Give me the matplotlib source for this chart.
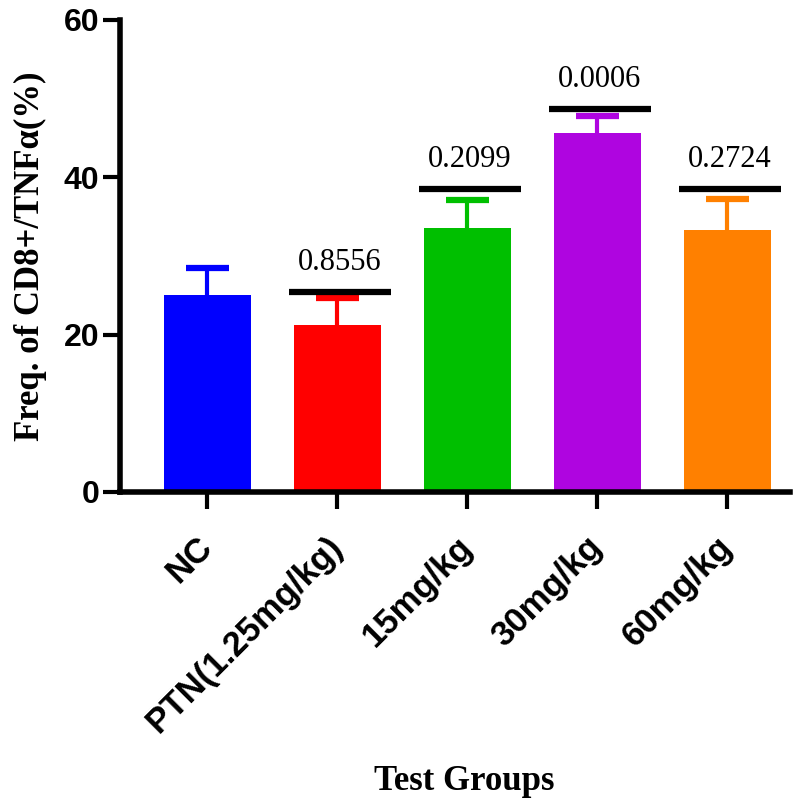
import numpy as np
import matplotlib
matplotlib.use("Agg")
import matplotlib.pyplot as plt

# values
groups = ["NC", "PTN(1.25mg/kg)", "15mg/kg", "30mg/kg", "60mg/kg"]
means = [25.0, 21.2, 33.6, 45.6, 33.3]
err_up = [3.5, 3.5, 3.5, 2.2, 3.9]
colors = ["#0000FF", "#FF0000", "#00BF00", "#AF05E0", "#FF8000"]

# p-values vs NC, with the height of the bar drawn under each
p_groups = [1, 2, 3, 4]
p_heights = [25.4, 38.5, 48.7, 38.5]
p_labels = ["0.8556", "0.2099", "0.0006", "0.2724"]

fig = plt.figure(figsize=(7.97, 7.98), dpi=100)
ax = fig.add_axes([0.1506, 0.3835, 0.8404, 0.5915])

x = np.arange(len(groups))
ax.bar(x, means, width=0.67, color=colors, zorder=2)
# upper error bars only (stem + cap), same colour as the bar
tops = np.array(means) + np.array(err_up)
ax.vlines(x, means, tops, colors=colors, linewidth=3, zorder=1)
ax.hlines(tops, x - 0.165, x + 0.165, colors=colors, linewidth=4.5, zorder=1)

for g, h, lab in zip(p_groups, p_heights, p_labels):
    ax.hlines(h, g - 0.37, g + 0.41, color="black", linewidth=4.5, zorder=3)
    ax.text(g + 0.02, h + 1.9, lab, ha="center", va="bottom",
            fontsize=22, family="Liberation Serif")

ax.set_xlim(-0.67, 4.48)
ax.set_ylim(0, 60)
ax.set_yticks([0, 20, 40, 60])
ax.set_xticks(x)
ax.set_xticklabels(groups, rotation=45, ha="right", va="center",
                   rotation_mode="anchor")

for lab in ax.get_yticklabels():
    lab.set_family("Liberation Sans")
    lab.set_fontweight("bold")
    lab.set_fontsize(23)
for lab in ax.get_xticklabels():
    lab.set_family("Liberation Sans")
    lab.set_fontweight("bold")
    lab.set_fontsize(25)

ax.tick_params(axis="both", width=3, length=12, color="black")
ax.tick_params(axis="x", pad=24)
ax.tick_params(axis="y", pad=3)

for s in ["top", "right"]:
    ax.spines[s].set_visible(False)
for s in ["left", "bottom"]:
    ax.spines[s].set_linewidth(4)

ax.set_ylabel("Freq. of CD8+/TNFα(%)", family="Liberation Serif",
              fontweight="bold", fontsize=25, labelpad=12)
fig.text(0.583, 0.01, "Test Groups", ha="center", va="baseline",
         family="Liberation Serif", fontweight="bold", fontsize=25)

fig.savefig("out.png", dpi=100)
